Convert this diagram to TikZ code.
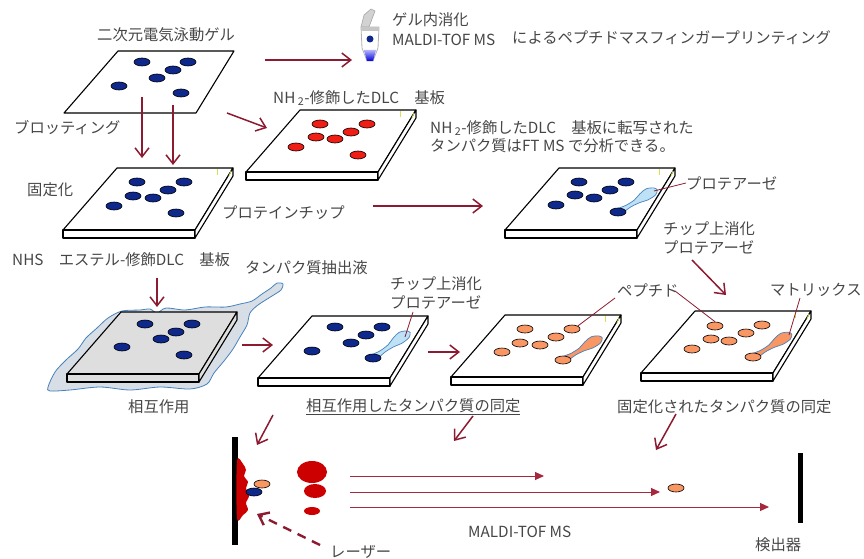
\documentclass[tikz,border=0pt]{standalone}
\usepackage{fontspec}
\setmainfont{Noto Sans CJK JP}
\usetikzlibrary{arrows.meta,shapes.geometric}

\definecolor{arrowred}{RGB}{140,26,48}
\definecolor{tofred}{RGB}{165,40,60}
\definecolor{spotblue}{RGB}{14,40,140}
\definecolor{spotred}{RGB}{240,30,20}
\definecolor{spotorange}{RGB}{248,150,100}
\definecolor{fluid}{RGB}{190,225,245}
\definecolor{fluidline}{RGB}{70,130,190}
\definecolor{labelgray}{RGB}{70,70,70}
\definecolor{slabgray}{RGB}{222,222,222}
\definecolor{extract}{RGB}{215,222,230}
\definecolor{splash}{RGB}{204,0,0}
\definecolor{tickyellow}{RGB}{215,225,80}

% substrate slab: #1,#2 = front top-left corner, #3 = top fill, #4 = edge fill
\newcommand{\slab}[4]{
    \filldraw[slabline, fill=#3] (#1,#2) -- ++(54,-62) -- ++(116,0) -- ++(-38,62) -- cycle;
    \filldraw[slabline, fill=#4] (#1,#2) -- ++(132,0) -- ++(0,8) -- ++(-132,0) -- cycle;
    \filldraw[slabline, fill=#4] (#1+132,#2) -- ++(38,-62) -- ++(0,8) -- ++(-38,62) -- cycle;
}
\newcommand{\slabtick}[2]{
    \draw[tickyellow, line width=0.8pt] (#1+154,#2-61) -- ++(0,6);
    \draw[tickyellow, line width=0.8pt] (#1+168,#2-59) -- ++(-2,5);
}
% protease / matrix droplet running out of a spot
\newcommand{\drop}[4]{
    \begin{scope}[shift={(#1)}, rotate=#2]
        \filldraw[fill=#3, draw=#4, line width=0.7pt]
            plot[smooth cycle] coordinates {(0,-3) (10,-1.8) (20,-2.2) (28,-4.8) (36,-6)
                (43,-3) (45,0.5) (41,4) (32,4.5) (24,2.8) (14,2) (4,3) (0,3)};
    \end{scope}
}

\tikzset{x=1pt, y=-1pt,
    every node/.append style={font=\fontsize{15.3}{18}\selectfont, text=labelgray},
    lbl/.style={anchor=west, inner sep=0pt},
    slabline/.style={draw=black, line width=1.1pt, line join=round},
    spot/.style={ellipse, draw=black, line width=0.6pt, minimum width=16pt, minimum height=8pt, inner sep=0pt},
    flow/.style={draw=arrowred, line width=1.5pt, -{Straight Barb[length=9pt,width=14pt]}},
    leader/.style={draw=arrowred, line width=0.8pt},
    tof/.style={draw=tofred, line width=1pt, -{Triangle[length=9pt,width=8pt]}},
    laser/.style={flow, line width=2.4pt, dash pattern=on 9pt off 7pt}
}

\begin{document}
\begin{tikzpicture}
\useasboundingbox (0,0) rectangle (864,559);

% 2-D gel
\filldraw[slabline, fill=white] (64,113) -- ++(54,-62) -- ++(116,0) -- ++(-38,62) -- cycle;
\foreach \x/\y [count=\i] in {142/62, 188/62, 173/70, 157/78, 119/86, 181/93}
    \node[spot, fill=spotblue] (gel\i) at (\x,\y) {};
\node[lbl] (gellbl) at (97,35) {二次元電気泳動ゲル};

% in-gel digestion tube
\filldraw[fill=gray!35, draw=gray!70, line width=0.6pt] (361,27) -- (364,15) -- (371,9) -- (375,11) -- (369,27) -- cycle;
\filldraw[fill=white, draw=gray!60, line width=0.8pt] (361,27) -- (379,27) -- (378,48) -- (373,61) -- (367,61) -- (362,48) -- cycle;
\fill[gray!45] (361,27) rectangle (379,31);
\shade[top color=blue!30, bottom color=blue!85!black] (364,50) -- (376,50) -- (373,61) -- (367,61) -- cycle;
\node[circle, fill=spotblue, minimum size=7pt, inner sep=0pt] (tubespot) at (370,39) {};
\node[lbl] (ingel) at (392,20) {ゲル内消化};
\node[lbl] (maldi1) at (392,40) {MALDI-TOF MS};
\node[lbl] (pmf) at (512,38) {によるペプチドマスフィンガープリンティング};

% NH2-DLC plate
\slab{246}{172}{white}{white}
\slabtick{246}{172}
\foreach \x/\y [count=\i] in {320/124, 367/124, 351/132, 316/137, 335/139, 296/147, 358/155}
    \node[spot, fill=spotred] (nh\i) at (\x,\y) {};
\node[lbl] (nhlbl) at (273,98) {NH\,\textsubscript{2}-修飾したDLC　基板};
\node[lbl] (ftms1) at (430,128) {NH\,\textsubscript{2}-修飾したDLC　基板に転写された};
\node[lbl] (ftms2) at (430,146) {タンパク質はFT MS で分析できる。};

% protein chip
\slab{63}{230}{white}{white}
\slabtick{63}{230}
\foreach \x/\y [count=\i] in {137/182, 184/182, 168/190, 133/196, 153/198, 114/206, 176/213}
    \node[spot, fill=spotblue] (chip\i) at (\x,\y) {};
\node[lbl] (blot) at (14,128) {ブロッティング};
\node[lbl] (fix) at (27,190) {固定化};
\node[lbl] (chiplbl) at (222,213) {プロテインチップ};
\node[lbl] (nhs) at (12,260) {NHS　エステル-修飾DLC　基板};

% on-chip digestion of the fixed proteins
\slab{505}{230}{white}{white}
\slabtick{505}{230}
\drop{618,212}{30}{fluid}{fluidline}
\foreach \x/\y [count=\i] in {579/182, 626/182, 610/190, 575/195, 594/198, 556/205, 618/212}
    \node[spot, fill=spotblue] (dig\i) at (\x,\y) {};
\coordinate (digtip) at (654,191);
\node[lbl] (prot1) at (686,183) {プロテアーゼ};
\draw[leader] (digtip) -- (prot1.west);
\node[lbl] (onchip1) at (663,229) {チップ上消化};
\node[lbl] (prot2) at (663,247) {プロテアーゼ};

% interaction with the protein extract
\filldraw[fill=extract, draw=fluidline, line width=0.8pt] plot[smooth cycle] coordinates {
    (48,387) (55,372) (66,360) (78,349) (86,338) (97,328) (108,318) (122,311) (140,310)
    (150,309) (157,313) (166,308) (185,310) (205,307) (226,307) (240,304) (252,301)
    (262,294) (271,288) (277,283) (283,284) (281,290) (272,296) (258,305) (250,313)
    (247,325) (240,337) (233,349) (224,361) (214,373) (207,384) (190,389) (160,387)
    (130,390) (100,387) (70,390) (50,391)};
\slab{67}{374}{slabgray}{slabgray}
\foreach \x/\y [count=\i] in {145/324, 192/324, 176/332, 161/339, 122/347, 184/355}
    \node[spot, fill=spotblue] (mix\i) at (\x,\y) {};
\node[lbl] (extlbl) at (245,268) {タンパク質抽出液};
\node[lbl] (mixlbl) at (128,407) {相互作用};

% bound proteins, digested on chip
\slab{258}{378}{white}{white}
\drop{373,358}{35}{fluid}{fluidline}
\foreach \x/\y [count=\i] in {335/327, 382/327, 366/335, 351/343, 312/351, 373/358}
    \node[spot, fill=spotblue] (bnd\i) at (\x,\y) {};
\coordinate (bndtip) at (405,337);
\node[lbl] (onchip2) at (390,284) {チップ上消化};
\node[lbl] (prot3) at (390,302) {プロテアーゼ};
\draw[leader] (bndtip) -- (413,312);
\node[lbl] (bndlbl) at (306,407) {\underline{相互作用したタンパク質の同定}};

% peptides on the chip
\slab{451}{377}{white}{white}
\slabtick{451}{377}
\drop{563,360}{30}{spotorange}{fluidline}
\foreach \x/\y [count=\i] in {525/329, 572/329, 556/337, 520/343, 540/345, 502/352, 563/360}
    \node[spot, fill=spotorange] (pepA\i) at (\x,\y) {};

% peptides with matrix
\slab{641}{373}{white}{white}
\slabtick{641}{373}
\drop{753,357}{31}{spotorange}{fluidline}
\foreach \x/\y [count=\i] in {715/326, 762/325, 746/333, 711/339, 729/341, 692/349, 753/357}
    \node[spot, fill=spotorange] (pepB\i) at (\x,\y) {};
\coordinate (mattip) at (789,335);
\node[lbl] (peplbl) at (617,290) {ペプチド};
\node[lbl] (matlbl) at (770,290) {マトリックス};
\draw[leader] (615,298) -- (pepA2.north east);
\draw[leader] (675,291) -- (pepB1.north);
\draw[leader] (800,298) -- (mattip);
\node[lbl] (fixlbl) at (617,407) {固定化されたタンパク質の同定};

% process arrows
\coordinate (f1a) at (265,60);  \coordinate (f1b) at (352,60);
\coordinate (f2a) at (142,97);  \coordinate (f2b) at (142,158);
\coordinate (f3a) at (173,105); \coordinate (f3b) at (173,165);
\coordinate (f4a) at (227,113); \coordinate (f4b) at (267,128);
\coordinate (f5a) at (373,206); \coordinate (f5b) at (483,206);
\coordinate (f6a) at (692,260); \coordinate (f6b) at (726,295);
\coordinate (f7a) at (157,278); \coordinate (f7b) at (157,307);
\coordinate (f8a) at (242,345); \coordinate (f8b) at (273,345);
\coordinate (f9a) at (428,352); \coordinate (f9b) at (460,352);
\coordinate (f10a) at (273,415); \coordinate (f10b) at (257,445);
\coordinate (f11a) at (473,416); \coordinate (f11b) at (454,441);
\coordinate (f12a) at (676,414); \coordinate (f12b) at (656,450);
\foreach \i in {1,...,12}
    \draw[flow] (f\i a) -- (f\i b);

% MALDI-TOF
\fill[black] (232,437) rectangle (238,545);
\fill[splash] plot[smooth cycle] coordinates {(237,461) (243,464) (246,470) (244,476) (248,482)
    (246,488) (249,496) (246,503) (248,510) (243,515) (237,518)};
\fill[splash] (312,472) ellipse (15 and 11);
\fill[splash] (315,491) ellipse (11 and 7);
\fill[splash] (312,511) ellipse (8 and 4);
\node[spot, fill=spotorange] (ionA) at (262,484) {};
\node[spot, fill=spotblue] (ionB) at (254,492) {};
\node[spot, fill=spotorange] (ionC) at (676,488) {};
\coordinate (t1) at (350,476); \coordinate (t1e) at (544,476);
\coordinate (t2) at (350,492); \coordinate (t2e) at (660,492);
\coordinate (t3) at (350,507); \coordinate (t3e) at (769,507);
\foreach \i in {1,2,3}
    \draw[tof] (t\i) -- (t\i e);
\fill[black] (798,453) rectangle (803,523);
\node[lbl] (maldi2) at (468,532) {MALDI-TOF MS};
\node[lbl] (det) at (755,545) {検出器};
\node[lbl] (laserlbl) at (330,552) {レーザー};
\coordinate (lasera) at (320,545); \coordinate (laserb) at (257,514);
\draw[laser] (lasera) -- (laserb);
\end{tikzpicture}
\end{document}
